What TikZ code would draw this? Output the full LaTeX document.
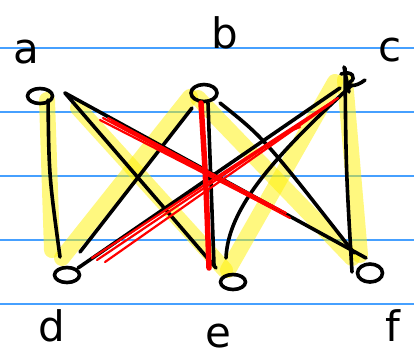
\documentclass[tikz,border=0pt]{standalone}
\usepackage{fontspec}
\setmainfont{DejaVu Sans}
\usetikzlibrary{shapes.geometric}
\pgfdeclarelayer{ruling}
\pgfdeclarelayer{marker}
\pgfsetlayers{ruling,marker,main}
\definecolor{rulecol}{RGB}{70,160,255}
\begin{document}
\begin{tikzpicture}[x=1pt,y=-1pt,
  ruled/.style={draw=rulecol, line width=1.5pt},
  hl/.style={draw=yellow, draw opacity=0.5, line width=16pt, line cap=round},
  edge/.style={draw=black, line width=3.6pt, line cap=round},
  redge/.style={draw=red, line width=2.2pt, line cap=round},
  vtx/.style={ellipse, draw=black, line width=3.6pt, minimum width=25pt, minimum height=15pt, inner sep=0pt},
  lbl/.style={font=\fontsize{42}{42}\selectfont, inner sep=0pt}]
\useasboundingbox (0,0) rectangle (414,360);

% vertices
\node[vtx] (a) at (40,96) {};
\node[vtx, minimum width=26pt, minimum height=17pt] (b) at (204,93) {};
\node[inner sep=0pt, minimum size=20pt] (c) at (350,80) {};
\node[vtx] (d) at (67,275) {};
\node[vtx] (e) at (233,282) {};
\node[vtx, minimum height=18pt] (f) at (370,273) {};

% labels
\node[lbl] (la) at (26,52) {a};
\node[lbl] (lb) at (225,33) {b};
\node[lbl] (lc) at (390,50) {c};
\node[lbl] (ld) at (52,326) {d};
\node[lbl] (le) at (218,336) {e};
\node[lbl] (lf) at (393,326) {f};

% ruled paper
\begin{pgfonlayer}{ruling}
\fill[white] (0,0) rectangle (414,360);
\foreach \yy in {48,112,176,240,304}
  \draw[ruled] (0,\yy) -- (414,\yy);
\end{pgfonlayer}

% highlighter cycle a-d-b-f-c-e-a
\begin{pgfonlayer}{marker}
\draw[hl] ([shift={(7,4)}]a.center) -- ([shift={(-15,-25)}]d.center);
\draw[hl] ([shift={(-5,-17)}]d.center) -- ([shift={(-14,4)}]b.center);
\draw[hl] ([shift={(-6,5)}]b.center) -- ([shift={(-18,-15)}]f.center);
\draw[hl] ([shift={(-10,-18)}]f.center) -- ([shift={(-5,0)}]c.center);
\draw[hl] ([shift={(-15,2)}]c.center) -- ([shift={(-5,-12)}]e.center);
\draw[hl] ([shift={(-8,-12)}]e.center) -- ([shift={(38,12)}]a.center);
\end{pgfonlayer}

% black edges
\draw[edge] ([shift={(8,4)}]a.center) .. controls ([shift={(9,80)}]a.center) .. ([shift={(-7,-18)}]d.center);
\draw[edge] ([shift={(25,-3)}]a.center) -- ([shift={(-17,-14)}]e.center);
\draw[edge] ([shift={(25,-3)}]a.center) -- ([shift={(-4,-15)}]f.center);
\draw[edge] ([shift={(-12,15)}]b.center) -- ([shift={(13,-23)}]d.center);
\draw[edge] ([shift={(4,10)}]b.center) -- ([shift={(-19,-17)}]e.center);
\draw[edge] ([shift={(16,10)}]b.center) .. controls ([shift={(60,45)}]b.center) .. ([shift={(-16,-20)}]f.center);
\draw[edge] ([shift={(-10,8)}]c.center) -- ([shift={(11,-7)}]d.center);
\draw[edge] ([shift={(2,5)}]c.center) .. controls ([shift={(-80,80)}]c.center) and ([shift={(-122,130)}]c.center) .. ([shift={(-7,-24)}]e.center);
\draw[edge] ([shift={(-5,-12)}]c.center) .. controls ([shift={(-4,90)}]c.center) .. ([shift={(-18,-1)}]f.center);

% node c scribble
\draw[edge] ([shift={(-6,-13)}]c.center) -- ([shift={(-1,12)}]c.center);
\draw[edge] ([shift={(-9,-6)}]c.center) .. controls ([shift={(2,-10)}]c.center) and ([shift={(7,-2)}]c.center) .. ([shift={(0,2)}]c.center) .. controls ([shift={(-4,6)}]c.center) and ([shift={(5,8)}]c.center) .. ([shift={(15,0)}]c.center);

% red edges
\draw[redge] ([shift={(63,22)}]a.center) -- ([shift={(-80,-55)}]f.center);
\draw[redge] ([shift={(68,22)}]a.center) -- ([shift={(-90,-63)}]f.center);
\draw[redge] ([shift={(60,24)}]a.center) -- ([shift={(-100,-66)}]f.center);
\draw[redge] ([shift={(72,25)}]a.center) -- ([shift={(-84,-60)}]f.center);
\draw[redge] ([shift={(-15,20)}]c.center) -- ([shift={(25,-17)}]d.center);
\draw[redge] ([shift={(-17,22)}]c.center) -- ([shift={(38,-13)}]d.center);
\draw[redge] ([shift={(-12,18)}]c.center) -- ([shift={(30,-15)}]d.center);
\draw[redge] ([shift={(-50,47)}]c.center) -- ([shift={(-62,52)}]c.center);
\draw[redge, line width=5.5pt] ([shift={(-3,10)}]b.center) .. controls ([shift={(2,90)}]b.center) .. ([shift={(-24,-14)}]e.center);
\end{tikzpicture}
\end{document}
